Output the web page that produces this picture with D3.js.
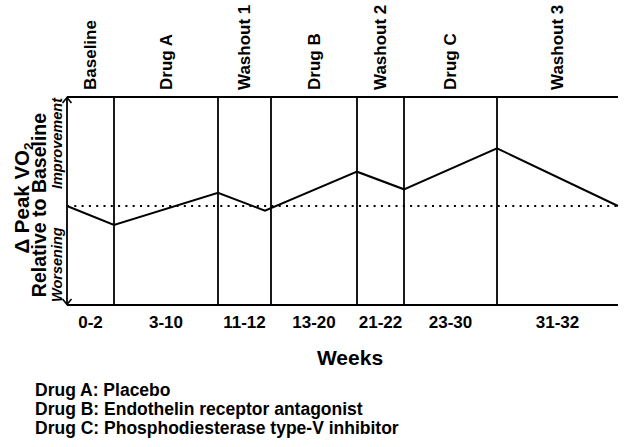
<!DOCTYPE html>
<html>
<head>
<meta charset="utf-8">
<script src="https://cdn.jsdelivr.net/npm/d3@7"></script>
<style>
  html, body { margin: 0; padding: 0; background: #fff; }
  svg { display: block; font-family: "Liberation Sans", Arial, sans-serif; }
</style>
</head>
<body>
<svg id="chart" width="624" height="447"></svg>
<script>
// ---- data ----
const phases = ["Baseline", "Drug A", "Washout 1", "Drug B", "Washout 2", "Drug C", "Washout 3"];
const weekLabels = ["0-2", "3-10", "11-12", "13-20", "21-22", "23-30", "31-32"];
const phaseWidths = [47, 104, 53, 86, 47, 93, 121];          // schematic timeline units
const pointTimes = [0, 47, 151, 198, 290, 337, 430, 551];     // schematic timeline units
const pointDeltas = [0, -19, 13.3, -4.7, 34.3, 16.7, 57.7, 0]; // Δ peak VO2 (schematic)
const yDomain = [-99, 109];
const legendLines = [
  "Drug A: Placebo",
  "Drug B: Endothelin receptor antagonist",
  "Drug C: Phosphodiesterase type-V inhibitor"
];

// ---- layout ----
const svg = d3.select("#chart");
const pLeft = 67, pRight = 618, pTop = 97, pBottom = 305;

const bounds = [0];
phaseWidths.forEach(w => bounds.push(bounds[bounds.length - 1] + w));

const x = d3.scaleLinear().domain([0, bounds[bounds.length - 1]]).range([pLeft, pRight]);
const y = d3.scaleLinear().domain(yDomain).range([pBottom, pTop]);

const stroke = "#000";

// top and bottom lines
svg.append("line").attr("x1", pLeft).attr("x2", pRight).attr("y1", pTop).attr("y2", pTop)
  .attr("stroke", stroke).attr("stroke-width", 2);
svg.append("line").attr("x1", pLeft).attr("x2", pRight).attr("y1", pBottom).attr("y2", pBottom)
  .attr("stroke", stroke).attr("stroke-width", 2);

// phase dividers
svg.selectAll("line.divider").data(bounds.slice(1, -1)).join("line")
  .attr("class", "divider")
  .attr("x1", d => x(d)).attr("x2", d => x(d))
  .attr("y1", pTop).attr("y2", pBottom)
  .attr("stroke", stroke).attr("stroke-width", 1.8);

// dotted baseline
svg.append("line").attr("x1", pLeft).attr("x2", pRight).attr("y1", y(0)).attr("y2", y(0))
  .attr("stroke", stroke).attr("stroke-width", 2).attr("stroke-dasharray", "2,5.3");

// left double arrow
svg.append("line").attr("x1", pLeft).attr("x2", pLeft).attr("y1", pTop + 1).attr("y2", pBottom - 1)
  .attr("stroke", stroke).attr("stroke-width", 1.8);
svg.append("path").attr("d", `M${pLeft - 4.5},${pTop + 6} L${pLeft},${pTop + 0.5} L${pLeft + 4.5},${pTop + 6}`)
  .attr("fill", "none").attr("stroke", stroke).attr("stroke-width", 1.6);
svg.append("path").attr("d", `M${pLeft - 4.5},${pBottom - 6} L${pLeft},${pBottom - 0.5} L${pLeft + 4.5},${pBottom - 6}`)
  .attr("fill", "none").attr("stroke", stroke).attr("stroke-width", 1.6);

// data line
const pts = pointTimes.map((t, i) => [t, pointDeltas[i]]);
svg.append("path").datum(pts)
  .attr("d", d3.line().x(d => x(d[0])).y(d => y(d[1])))
  .attr("fill", "none").attr("stroke", stroke).attr("stroke-width", 2)
  .attr("stroke-linejoin", "miter");

// phase labels (rotated, top)
const centers = phases.map((p, i) => (bounds[i] + bounds[i + 1]) / 2);
svg.selectAll("text.phase").data(phases).join("text")
  .attr("class", "phase")
  .attr("transform", (d, i) => `translate(${x(centers[i])},90) rotate(-90)`)
  .attr("dy", "0.35em")
  .attr("text-anchor", "start")
  .attr("font-size", 17).attr("font-weight", "bold")
  .text(d => d);

// week labels (bottom)
svg.selectAll("text.week").data(weekLabels).join("text")
  .attr("class", "week")
  .attr("x", (d, i) => x(centers[i]))
  .attr("y", 328)
  .attr("text-anchor", "middle")
  .attr("font-size", 17).attr("font-weight", "bold")
  .text(d => d);

// x title
svg.append("text").attr("x", 350).attr("y", 365).attr("text-anchor", "middle")
  .attr("font-size", 21).attr("font-weight", "bold").text("Weeks");

// y titles
const midY = (pTop + pBottom) / 2;
const t1 = svg.append("text")
  .attr("transform", `translate(29,${midY - 3}) rotate(-90)`)
  .attr("text-anchor", "middle")
  .attr("font-size", 20.5).attr("font-weight", "bold");
t1.append("tspan").text("Δ Peak VO");
t1.append("tspan").attr("font-size", 13.5).attr("dy", 4).text("2");

svg.append("text")
  .attr("transform", `translate(46,${midY + 4}) rotate(-90)`)
  .attr("text-anchor", "middle")
  .attr("font-size", 19.5).attr("font-weight", "bold")
  .text("Relative to Baseline");

svg.append("text")
  .attr("transform", `translate(62,${pTop + 1}) rotate(-90)`)
  .attr("text-anchor", "end")
  .attr("font-size", 14.5).attr("font-weight", "bold").attr("font-style", "italic")
  .text("Improvement");

svg.append("text")
  .attr("transform", `translate(62,${pBottom - 3}) rotate(-90)`)
  .attr("text-anchor", "start")
  .attr("font-size", 14.5).attr("font-weight", "bold").attr("font-style", "italic")
  .text("Worsening");

// legend
svg.selectAll("text.legend").data(legendLines).join("text")
  .attr("class", "legend")
  .attr("x", 35)
  .attr("y", (d, i) => 396 + i * 19)
  .attr("font-size", 17.5).attr("font-weight", "bold")
  .text(d => d);
</script>
</body>
</html>
